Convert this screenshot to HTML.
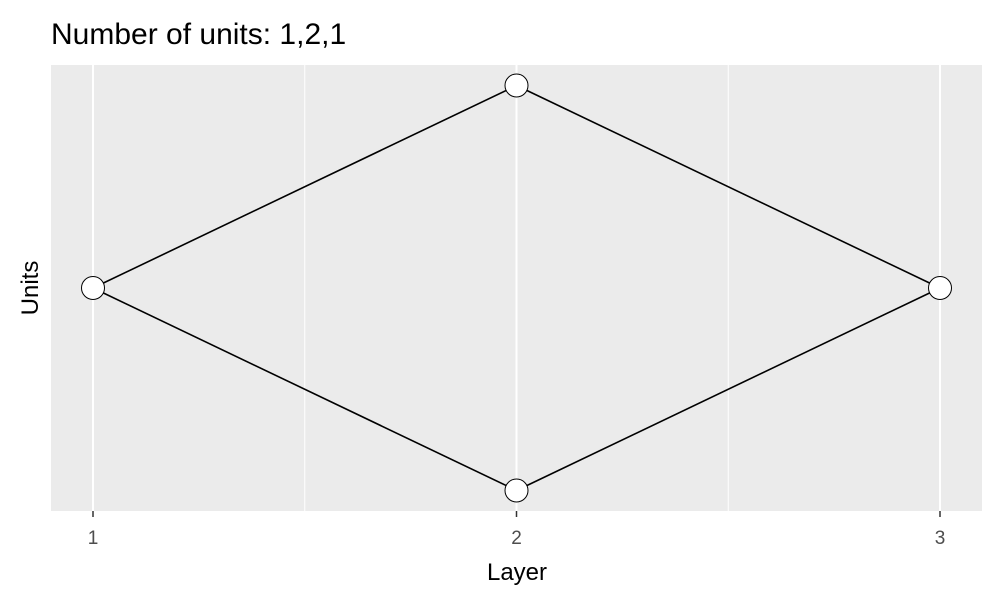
<!DOCTYPE html>
<html><head><meta charset="utf-8"><style>
body{margin:0;background:#fff;font-family:"Liberation Sans",sans-serif;}
</style></head><body>
<svg width="1000" height="600" xmlns="http://www.w3.org/2000/svg">
<rect width="1000" height="600" fill="#fff"/>
<text x="51" y="44" font-size="30" fill="#000">Number of units: 1,2,1</text>
<rect x="51" y="65" width="931" height="446" fill="#ebebeb"/>
<g id="grid"></g>
<g id="edges"></g>
<g id="nodes"></g>
<g id="xaxis"></g>
<text x="517" y="580" font-size="24" text-anchor="middle">Layer</text>
<text transform="translate(38,288) rotate(-90)" font-size="24" text-anchor="middle">Units</text>
</svg>
<script>
const layers=[1,2,3];
const units=[1,2,1];
const xTicks=["1","2","3"];
const ns="http://www.w3.org/2000/svg";
const X=v=>93+(v-1)*423.5;
const Y=v=>288+v*202.5;
function mk(t,a,p){const e=document.createElementNS(ns,t);for(const k in a)e.setAttribute(k,a[k]);p.appendChild(e);return e;}
const grid=document.getElementById('grid');
for(let i=0;i<layers.length-1;i++){
 const g=mk('line',{x1:X(layers[i]+0.5),x2:X(layers[i]+0.5),y1:65,y2:511,stroke:'#fff','stroke-width':1},grid);
 
 
}
layers.forEach(l=>{
 const g=mk('line',{x1:X(l),x2:X(l),y1:65,y2:511,stroke:'#fff','stroke-width':2},grid);
 
 
});
function pos(i){const n=units[i];const out=[];for(let j=0;j<n;j++){out.push(n===1?0:(-1+2*j/(n-1)));}return out;}
const edges=document.getElementById('edges');
for(let i=0;i<layers.length-1;i++){
 pos(i).forEach(a=>pos(i+1).forEach(b=>{
  const e=mk('line',{x1:X(layers[i]),y1:Y(a),x2:X(layers[i+1]),y2:Y(b),stroke:'#000','stroke-width':1.6},edges);
  
  
 }));
}
const nodes=document.getElementById('nodes');
layers.forEach((l,i)=>pos(i).forEach(v=>{
 const c=mk('circle',{cx:X(l),cy:Y(v),r:11.5,fill:'#fff',stroke:'#000','stroke-width':1},nodes);
 
 
}));
const xa=document.getElementById('xaxis');
layers.forEach((l,i)=>{
 const t=mk('line',{x1:X(l),x2:X(l),y1:511,y2:517,stroke:'#333','stroke-width':1.5},xa);
 
 
 const tx=mk('text',{x:X(l),y:544,'font-size':19,fill:'#4d4d4d','text-anchor':'middle'},xa);
 tx.textContent=xTicks[i];
 
 
});
</script>
</body></html>
